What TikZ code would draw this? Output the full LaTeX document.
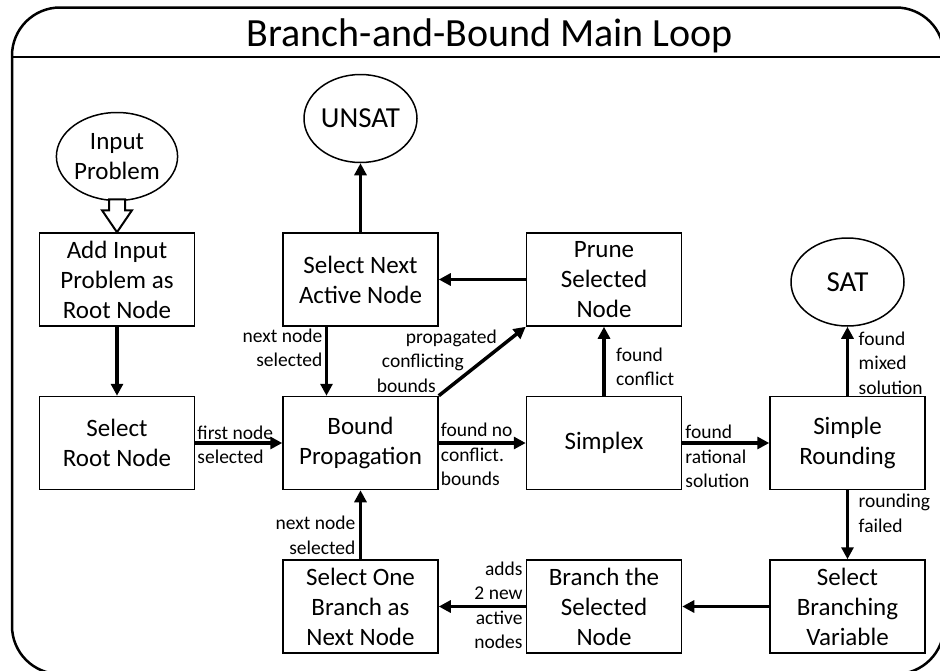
\documentclass[tikz,border=0pt]{standalone}
\usepackage{fontspec}
\setmainfont{Carlito}
\usepackage{tikz}
\usetikzlibrary{arrows.meta,positioning,shapes.geometric}

\begin{document}
\begin{tikzpicture}[x=1pt,y=-1pt, node distance=69pt and 87pt, box/.style={draw,line width=1.5pt,fill=white,minimum width=155pt,minimum height=93pt,inner sep=0pt,align=center,font=\fontsize{25}{30}\selectfont}, term/.style={draw,ellipse,line width=1.5pt,minimum width=113pt,minimum height=88pt,inner sep=0pt,align=center}, lbl/.style={inner sep=0pt,font=\fontsize{19.5}{24.5}\selectfont}, arr/.style={line width=3.5pt,-{Triangle[length=12pt,width=12pt]}}]
\useasboundingbox (0,0) rectangle (940,670);
\draw[line width=2.5pt,rounded corners=48pt] (12,7.5) rectangle (944,674);
\draw[line width=2pt] (12,57) -- (944,57);
\node[anchor=base,inner sep=0pt,font=\fontsize{40}{48}\selectfont] (title) at (490,46.5) {Branch-and-Bound Main Loop};
\node[box] (root) at (117,443) {Select\\Root Node};
\node[box,above=of root] (add) {Add Input\\Problem as\\Root Node};
\node[term,above=31pt of add,font=\fontsize{25}{30}\selectfont] (input) {Input\\Problem};
\node[box,right=of root] (bp) {Bound\\Propagation};
\node[box,above=of bp] (sna) {Select Next\\Active Node};
\node[term,above=of sna,font=\fontsize{29}{34}\selectfont] (unsat) {UNSAT};
\node[box,right=of bp] (simplex) {Simplex};
\node[box,above=of simplex] (prune) {Prune\\Selected\\Node};
\node[box,right=of simplex] (rounding) {Simple\\Rounding};
\node[term,above=of rounding,font=\fontsize{29}{34}\selectfont] (sat) {SAT};
\node[box,below=of rounding] (sbv) {Select\\Branching\\Variable};
\node[box,below=of simplex] (branch) {Branch the\\Selected\\Node};
\node[box,below=of bp] (one) {Select One\\Branch as\\Next Node};
\draw[line width=2pt,line join=miter,fill=white] ([xshift=-8pt,yshift=2pt]input.south) -- ++(16,0) -- ++(0,11) -- ++(7,0) -- (add.north) -- ++(-15,-22) -- ++(7,0) -- cycle;
\draw[arr] (add) -- (root);
\draw[arr] (root) -- (bp);
\draw[arr] ([xshift=-34pt]sna.south) -- ([xshift=-34pt]bp.north);
\draw[arr] (sna) -- (unsat);
\draw[arr] (prune) -- (sna);
\draw[arr] (bp.north east) -- (prune.south west);
\draw[arr] (bp) -- (simplex);
\draw[arr] (simplex) -- (prune);
\draw[arr] (simplex) -- (rounding);
\draw[arr] (rounding) -- (sat);
\draw[arr] (rounding) -- (sbv);
\draw[arr] (sbv) -- (branch);
\draw[arr] (branch) -- (one);
\draw[arr] (one) -- (bp);
\node[lbl,anchor=west,align=left] (l1) at ([xshift=2pt,yshift=-2pt]root.east) {first node\\selected};
\node[lbl,anchor=north east,align=right] (l2) at ([xshift=-38pt,yshift=-2pt]sna.south) {next node\\selected};
\node[lbl,anchor=north west,align=left] (l3) at ([xshift=-149pt,yshift=-3pt]prune.south west) {\hspace*{29pt}propagated\\\hspace*{5pt}conflicting\\bounds};
\node[lbl,anchor=north west,align=left] (l4) at ([xshift=2pt,yshift=20pt]bp.east) {found no\\conflict.\\bounds};
\node[lbl,anchor=north west,align=left] (l5) at ([xshift=12pt,yshift=-21pt]prune.south) {found\\conflict};
\node[lbl,anchor=north west,align=left] (l6) at ([xshift=3pt,yshift=18pt]simplex.east) {found\\rational\\solution};
\node[lbl,anchor=north west,align=left] (l7) at ([xshift=11pt,yshift=-5pt]sat.south) {found\\mixed\\solution};
\node[lbl,anchor=north west,align=left] (l8) at ([xshift=11pt,yshift=-4pt]rounding.south) {rounding\\failed};
\node[lbl,anchor=north east,align=right] (l9) at ([xshift=-3pt,yshift=-2pt]branch.north west) {adds\\2 new\\active\\nodes};
\node[lbl,anchor=north east,align=right] (l10) at ([xshift=-5pt,yshift=43pt]one.north) {next node\\selected};
\end{tikzpicture}
\end{document}
